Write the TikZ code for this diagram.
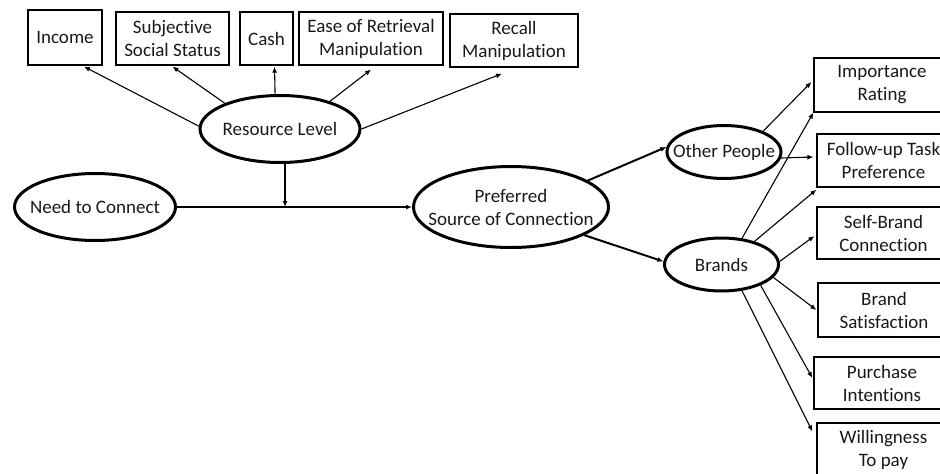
\documentclass[tikz,border=0pt]{standalone}
\usepackage{fontspec}
\setmainfont{Carlito}[Ligatures={NoCommon}]
\usetikzlibrary{shapes.geometric,arrows.meta,calc}
\begin{document}
\begin{tikzpicture}[x=1pt,y=-1pt,
  txt/.style={align=center,font=\fontsize{19}{23}\selectfont,text=black!90,inner sep=0pt},
  box/.style={draw,line width=1.2pt,rectangle,inner sep=0pt,txt},
  oval/.style={draw,line width=3pt,ellipse,inner sep=0pt},
  thinarr/.style={line width=1.1pt,-{Latex[length=6pt,width=5pt]}},
  thickarr/.style={line width=2pt,-{Latex[length=6pt,width=5pt]}}]
\useasboundingbox (0,0) rectangle (940,474);
\clip (0,0) rectangle (940,474);
% top boxes
\node[box,minimum width=74pt,minimum height=55pt] (inc) at (65,37.5) {Income};
\node[box,minimum width=113pt,minimum height=53pt] (sss) at (172.5,38.5) {Subjective\\Social Status};
\node[box,minimum width=53pt,minimum height=53pt] (cash) at (266.5,38.5) {Cash};
\node[box,minimum width=144pt,minimum height=53pt] (ease) at (371,38.5) {Ease of Retrieval\\Manipulation};
\node[box,minimum width=128pt,minimum height=53pt] (rec) at (514,40.5) {Recall\\Manipulation};
% ellipses
\node[oval,minimum width=160pt,minimum height=67pt] (res) at (280,129) {};
\node[txt] at (res) {Resource Level};
\node[oval,minimum width=161pt,minimum height=67pt] (need) at (95,207) {};
\node[txt] at (need) {Need to Connect};
\node[oval,minimum width=195pt,minimum height=81pt] (pref) at (511,207) {};
\node[txt] at (pref) {Preferred\\Source of Connection};
\node[oval,minimum width=114pt,minimum height=53pt] (op) at (724,152) {};
\node[txt] at (op) {Other People};
\node[oval,minimum width=114pt,minimum height=53pt] (br) at (721.5,264.5) {};
\node[txt] at (br) {Brands};
% right boxes
\node[box,minimum width=136pt,minimum height=54pt] (imp) at (882,85) {Importance\\Rating};
\node[box,minimum width=133pt,minimum height=53pt] (fol) at (883.5,160.5) {Follow-up Task\\Preference};
\node[box,minimum width=133pt,minimum height=52pt] (sb) at (883.5,233) {Self-Brand\\Connection};
\node[box,minimum width=132pt,minimum height=54pt] (bs) at (884,310) {Brand\\Satisfaction};
\node[box,minimum width=136pt,minimum height=52pt] (pi) at (882,383) {Purchase\\Intentions};
\node[box,minimum width=133pt,minimum height=53pt] (wil) at (883.5,449.5) {Willingness\\To pay};
% arrows from resource level
\draw[thinarr] (res.178) -- ($(inc.south)+(19,1)$);
\draw[thinarr] (res.155) -- ($(sss.south)+(0,1)$);
\draw[thinarr] (res.98) -- ($(cash.south)+(8,1)$);
\draw[thinarr] (res.29) -- ($(ease.south)+(0,4)$);
\draw[thinarr] (res.0) -- ($(rec.south)+(-12,6)$);
% main path
\path (need.east) -- (pref.west) coordinate[pos=0.46] (j);
\draw[thickarr] (res.south -| j) -- (j);
\draw[thickarr] (need.east) -- (pref.west);
\draw[thickarr] (pref.19) -- (op.175);
\draw[thickarr] (pref.-21) -- (br.177);
% outcomes
\draw[thinarr] (op.28) -- ($(imp.west)+(-2,-3)$);
\draw[thinarr] (op.-6) -- ($(fol.west)+(-3,-3.5)$);
\draw[thinarr] (br.52) -- (imp.south west);
\draw[thinarr] (br.35) -- ($(fol.south west)+(0,2)$);
\draw[thinarr] (br.3) -- ($(sb.west)+(-2,3)$);
\draw[thinarr] (br.-14) -- ($(bs.west)+(-1,0)$);
\draw[thinarr] (br.-28) -- ($(pi.west)+(-1,-5)$);
\draw[thinarr] (br.-52) -- ($(wil.north west)+(-4,9)$);
\end{tikzpicture}
\end{document}
